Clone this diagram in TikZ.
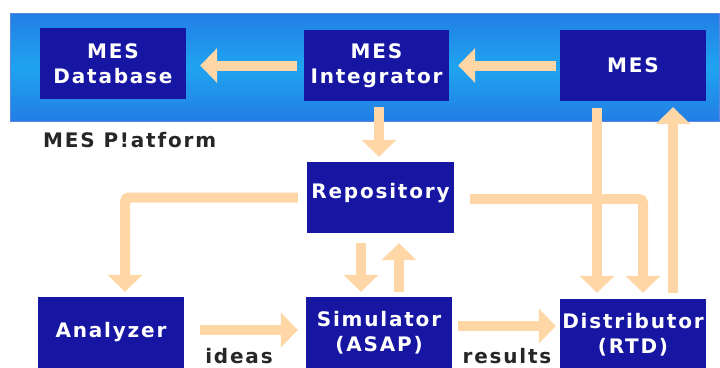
\documentclass[tikz,border=0pt]{standalone}
\usepackage{fontspec}
\usetikzlibrary{arrows.meta,calc}
\newfontfamily\lblfont[LetterSpace=9]{DejaVu Sans}
\definecolor{boxblue}{HTML}{1616A2}
\definecolor{peach}{HTML}{FFD6A6}
\definecolor{bandedge}{HTML}{2656D8}
\definecolor{bandmid}{HTML}{1FA4F0}
\definecolor{bandrim}{HTML}{5C86E4}
\pgfdeclareverticalshading{bandfade}{100bp}{color(0bp)=(bandedge); color(22bp)=(bandedge!55!bandmid); color(50bp)=(bandmid); color(78bp)=(bandedge!55!bandmid); color(100bp)=(bandedge)}
\begin{document}
\begin{tikzpicture}[x=1pt,y=-1pt,
  box/.style={fill=boxblue, text=white, inner sep=0pt,
    minimum width=146pt, minimum height=71pt, align=center,
    font=\lblfont\bfseries\fontsize{20}{25}\selectfont},
  flow/.style={draw=peach, line width=10pt,
    -{Triangle[width=34pt,length=17pt]}},
  caption/.style={font=\lblfont\bfseries\fontsize{20}{25}\selectfont,
    text=black!85, inner sep=0pt}
]
\useasboundingbox (0,0) rectangle (720,367);
\begin{scope}
\clip (0,0) rectangle (720,367);

% platform band
\shade[shading=bandfade] (10,13) rectangle (719,121);
\draw[bandrim, line width=0.8pt] (10,13) rectangle (719,121);

% components
\node[box] (db) at (113,63.5) {MES\\Database};
\node[box, minimum width=145pt] (int) at (376.5,65.5) {MES\\Integrator};
\node[box] (mes) at (633,65.5) {MES};
\node[box, minimum width=147pt, text depth=14pt] (rep) at (380.5,197.5) {Repository};
\node[box] (an) at (111,332.5) {Analyzer};
\node[box] (sim) at (379,332.5) {Simulator\\(ASAP)};
\node[box] (dist) at (633,334.5) {Distributor\\(RTD)};

% captions
\node[caption, anchor=base west] (plat) at (43,147) {MES P!atform};
\node[caption, anchor=base] (ideas) at (239,363) {ideas};
\node[caption, anchor=base] (results) at (507,363) {results};

% data flows
\draw[flow] ([xshift=-7pt]int.west) -- ($(int.west -| db.east)+(14,0)$);
\draw[flow] ([xshift=-4pt]mes.west) -- ([xshift=9pt]int.east);
\draw[flow] ([xshift=2.5pt,yshift=-6pt]int.south) -- ([xshift=-1.5pt,yshift=5pt]rep.north);
\draw[flow] ([xshift=-36pt,yshift=-7pt]mes.south) -- ([xshift=-36pt,yshift=6pt]dist.north);
\draw[flow] ([xshift=40pt,yshift=6pt]dist.north) -- ([xshift=40pt,yshift=-6pt]mes.south);
\draw[flow, rounded corners=4pt] ([xshift=16pt,yshift=-1.5pt]rep.east) -| ([xshift=10pt,yshift=6pt]dist.north);
\draw[flow, rounded corners=4pt] ([xshift=-9pt]rep.west) -| ([xshift=14pt,yshift=5pt]an.north);
\draw[flow] ([xshift=-19.5pt,yshift=-10pt]rep.south) -- ([xshift=-18pt,yshift=5pt]sim.north);
\draw[flow] ([xshift=20pt,yshift=5pt]sim.north) -- ([xshift=18.5pt,yshift=-10pt]rep.south);
\draw[flow] ([xshift=16pt,yshift=2.5pt]an.east) -- ([xshift=-8pt,yshift=2.5pt]sim.west);
\draw[flow] ([xshift=6pt,yshift=6.5pt]sim.east) -- ([xshift=-4pt,yshift=8.5pt]dist.west);
\end{scope}
\end{tikzpicture}
\end{document}
